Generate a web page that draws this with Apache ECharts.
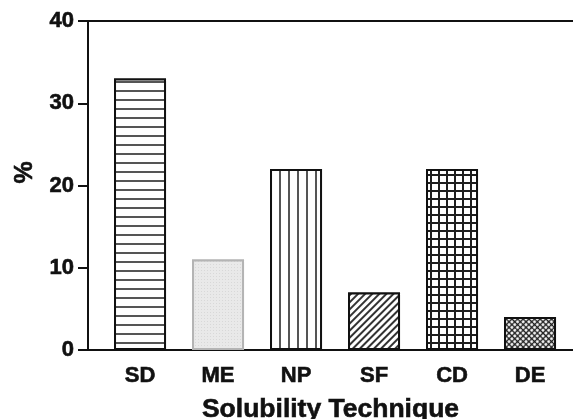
<!DOCTYPE html>
<html>
<head>
<meta charset="utf-8">
<script src="https://cdn.jsdelivr.net/npm/echarts@6/dist/echarts.min.js"></script>
<style>
html,body{margin:0;padding:0;background:#fff;}
#c{width:573px;height:419px;}
</style>
</head>
<body>
<div id="c"></div>
<script>
var categories = ['SD', 'ME', 'NP', 'SF', 'CD', 'DE'];
var values = [33, 11, 22, 7, 22, 4];
var yTicks = [0, 10, 20, 30, 40];
var yTitle = '%';
var xTitle = 'Solubility Technique';

var FONT = '"Liberation Sans", Arial, Helvetica, sans-serif';
var DARK = '#111';

var styles = [
  { color: '#fff', borderColor: DARK, decal: { symbol: 'rect', symbolSize: 1, color: '#555', backgroundColor: '#fff', dashArrayX: [1, 0], dashArrayY: [2, 6.3] } },
  { color: '#e6e6e6', borderColor: '#b4b4b4', decal: { symbol: 'rect', symbolSize: 1, color: '#d8d8d8', backgroundColor: '#e9e9e9', dashArrayX: [1, 2], dashArrayY: [1, 2] } },
  { color: '#fff', borderColor: DARK, decal: { symbol: 'rect', symbolSize: 1, color: '#555', backgroundColor: '#fff', dashArrayX: [2, 6.3], dashArrayY: [1, 0] } },
  { color: '#fff', borderColor: DARK, decal: { symbol: 'rect', symbolSize: 1, color: '#333', backgroundColor: '#fff', dashArrayX: [1, 0], dashArrayY: [1.6, 2.2], rotation: -Math.PI / 4 } },
  { color: '#fff', borderColor: DARK, decal: { symbol: 'rect', symbolSize: 1, color: '#fff', backgroundColor: '#1e1e1e', dashArrayX: [5.4, 2], dashArrayY: [5.4, 2] } },
  { color: '#fff', borderColor: DARK, decal: { symbol: 'circle', symbolSize: 1, color: '#fff', backgroundColor: '#222', dashArrayX: [2.2, 0.8], dashArrayY: [2.2, 0.8], rotation: Math.PI / 4 } }
];

var barData = categories.map(function (c, i) {
  return {
    value: [i, values[i]],
    itemStyle: {
      color: styles[i].color,
      borderColor: styles[i].borderColor,
      borderWidth: 2,
      decal: styles[i].decal
    }
  };
});

var txt = function (size) {
  return { fontFamily: FONT, fontWeight: 'bold', fontSize: size, color: DARK, textBorderColor: DARK, textBorderWidth: 0.6 };
};

var chart = echarts.init(document.getElementById('c'));
chart.setOption({
  animation: false,
  backgroundColor: '#fff',
  grid: { left: 88, right: 0, top: 21, bottom: 69, containLabel: false, outerBoundsMode: 'none' },
  xAxis: [{
    type: 'value',
    min: -0.667,
    max: 5.551,
    name: xTitle,
    nameLocation: 'middle',
    nameGap: 46,
    nameTextStyle: txt(26.5),
    axisLine: { show: true, onZero: false, lineStyle: { color: DARK, width: 2 } },
    axisTick: { show: false },
    splitLine: { show: false },
    axisLabel: Object.assign({
      customValues: categories.map(function (c, i) { return i; }),
      formatter: function (v) { return categories[Math.round(v)] || ''; },
      margin: 15
    }, txt(22))
  }, {
    type: 'value',
    position: 'top',
    min: -0.667,
    max: 5.551,
    axisLine: { show: true, onZero: false, lineStyle: { color: DARK, width: 2 } },
    axisTick: { show: false },
    axisLabel: { show: false },
    splitLine: { show: false }
  }],
  yAxis: {
    type: 'value',
    min: 0,
    max: 40,
    interval: 10,
    name: yTitle,
    nameLocation: 'middle',
    nameGap: 48,
    nameRotate: 90,
    nameTextStyle: Object.assign(txt(25), { padding: [0, 0, 0, 26] }),
    axisLine: { show: true, onZero: false, lineStyle: { color: DARK, width: 2 } },
    axisTick: { show: true, length: 10, lineStyle: { color: DARK, width: 2 } },
    splitLine: { show: false },
    axisLabel: Object.assign({
      margin: 14,
      formatter: function (v) { return yTicks.indexOf(v) >= 0 ? String(v) : ''; }
    }, txt(22))
  },
  series: [{
    type: 'bar',
    xAxisIndex: 0,
    barWidth: 52,
    data: barData
  }]
});
</script>
</body>
</html>
